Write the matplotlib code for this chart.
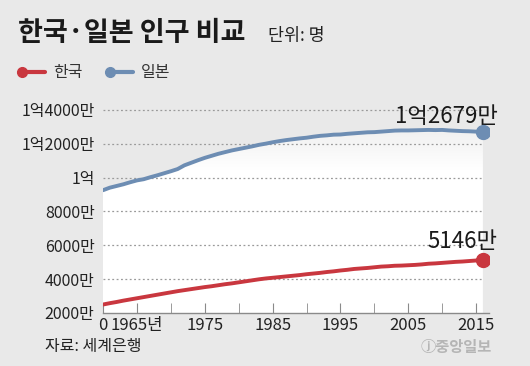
import numpy as np
import matplotlib
matplotlib.use('Agg')
import matplotlib.pyplot as plt
from matplotlib.ticker import FixedLocator

plt.rcParams['font.family'] = ['Noto Sans CJK KR', 'DejaVu Sans']

# population, unit: 만 명
years = list(range(1960, 2017))
japan = [9250, 9400, 9500, 9600, 9720, 9830, 9900, 10020, 10130, 10250,
         10370, 10500, 10720, 10870, 11020, 11160, 11280, 11400, 11500, 11600,
         11680, 11760, 11840, 11930, 12000, 12080, 12150, 12210, 12260, 12310,
         12350, 12410, 12460, 12490, 12530, 12540, 12580, 12610, 12640, 12670,
         12680, 12710, 12740, 12770, 12780, 12780, 12790, 12800, 12810, 12800,
         12810, 12780, 12760, 12740, 12730, 12710, 12679]
korea = [2500, 2580, 2650, 2730, 2800, 2870, 2940, 3010, 3080, 3150,
         3220, 3290, 3350, 3410, 3470, 3530, 3580, 3640, 3700, 3750,
         3810, 3870, 3930, 3990, 4040, 4080, 4120, 4160, 4200, 4240,
         4290, 4330, 4370, 4420, 4460, 4510, 4550, 4600, 4630, 4660,
         4700, 4740, 4760, 4790, 4800, 4820, 4840, 4870, 4910, 4930,
         4960, 4990, 5020, 5040, 5070, 5100, 5146]

y_ticks = [2000, 4000, 6000, 8000, 10000, 12000, 14000]
y_labels = ['2000만', '4000만', '6000만', '8000만', '1억', '1억2000만', '1억4000만']
x_ticks = [1960, 1965, 1975, 1985, 1995, 2005, 2015]
x_labels = ['0', '1965년', '1975', '1985', '1995', '2005', '2015']

bg = '#e9e9e9'
red = '#c9373f'
blue = '#6d8db3'
num_font = ['Liberation Sans Narrow', 'Noto Sans CJK KR']

fig = plt.figure(figsize=(5.3, 3.66), dpi=100, facecolor=bg)
ax = fig.add_axes([103 / 530, (366 - 313) / 366, (489 - 103) / 530, (313 - 103) / 366])
ax.set_facecolor('none')
ax.set_xlim(1960, 2016.9)
ax.set_ylim(2000, 14400)

# white fill under the Japan line, fading toward the top
grad = np.linspace(0, 1, 200).reshape(-1, 1)
yy = 2000 + grad * 12400
alpha = np.clip(1 - (yy - 10500) / 3500, 0.15, 1)
img = np.ones((200, 1, 4))
img[..., 3] = alpha
im = ax.imshow(img, extent=(1960, 2016, 2000, 14400), origin='lower',
               aspect='auto', zorder=0)
poly = ax.fill_between(years, 2000, japan, color='none', lw=0)
im.set_clip_path(poly.get_paths()[0], transform=ax.transData)

for v in y_ticks[1:]:
    ax.plot([1960, 2016], [v, v], ls=(0, (1.5, 2)), color='#9a9a9a', lw=0.9, zorder=1)

ax.plot(years, japan, color=blue, lw=2.8, solid_capstyle='round', zorder=3)
ax.plot(years, korea, color=red, lw=2.8, solid_capstyle='round', zorder=3)
ax.plot(years[-1], japan[-1], 'o', ms=10, color=blue, zorder=4)
ax.plot(years[-1], korea[-1], 'o', ms=10, color=red, zorder=4)

ax.text(2018.2, japan[-1] + 950, '1억2679만', ha='right', va='center',
        fontsize=16, family=num_font, color='#1a1a1a')
ax.text(2018.2, korea[-1] + 1050, '5146만', ha='right', va='center',
        fontsize=16, family=num_font, color='#1a1a1a')

for s in ['top', 'right', 'left']:
    ax.spines[s].set_visible(False)
ax.spines['bottom'].set_color('#8a8a8a')
ax.spines['bottom'].set_linewidth(1)

ax.set_yticks(y_ticks)
ax.set_yticklabels(y_labels, family=num_font, fontsize=11.5, color='#222222')
ax.tick_params(axis='y', length=0, pad=6)
ax.set_xticks(x_ticks)
ax.set_xticklabels(x_labels, family=num_font, fontsize=12, color='#222222')
ax.xaxis.set_minor_locator(FixedLocator(list(range(1960, 2016, 5))))
ax.tick_params(axis='x', which='both', direction='in', length=7, color='#8a8a8a', pad=3)

fig.text(18 / 530, 1 - 33 / 366, '한국·일본 인구 비교', fontsize=19.5, fontweight='bold',
         va='center', color='#1a1a1a')
fig.text(268 / 530, 1 - 36 / 366, '단위: 명', fontsize=12.5, va='center', color='#222222')

# legend
for x0, c, lab in [(22, red, '한국'), (110, blue, '일본')]:
    fig.add_artist(plt.Line2D([x0 / 530, (x0 + 23) / 530], [1 - 72 / 366] * 2,
                              color=c, lw=3, solid_capstyle='round'))
    fig.add_artist(plt.Line2D([x0 / 530], [1 - 72 / 366], marker='o', ms=7, color=c))
    fig.text((x0 + 31) / 530, 1 - 72 / 366, lab, fontsize=11.5, va='center', color='#333333')

fig.text(45 / 530, 1 - 347 / 366, '자료: 세계은행', fontsize=11.5, va='center', color='#222222')
fig.text(492 / 530, 1 - 347 / 366, 'ⓙ중앙일보', fontsize=11, fontweight='bold',
         ha='right', va='center', color='#b5b5b5')

fig.savefig('out.png', dpi=100, facecolor=bg)
